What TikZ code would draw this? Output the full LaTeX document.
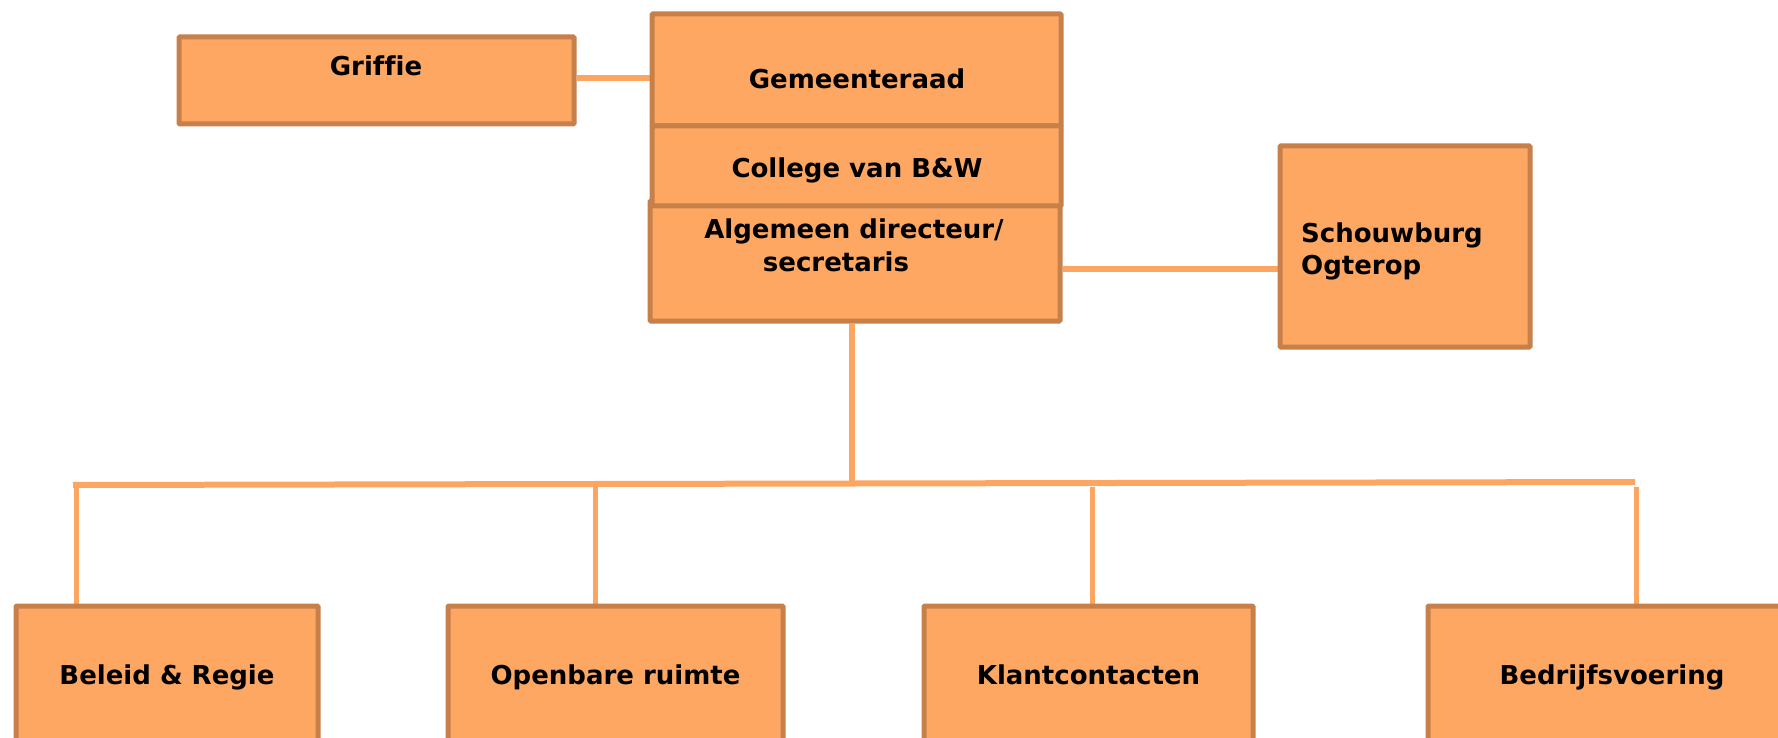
\documentclass[tikz,border=0pt]{standalone}
\usepackage{fontspec}
\setmainfont[Ligatures={NoCommon}]{DejaVu Sans}
\usetikzlibrary{backgrounds}
\definecolor{boxfill}{HTML}{FDA763}
\definecolor{boxline}{HTML}{C8804A}
\definecolor{conn}{HTML}{FDA661}
\begin{document}
\begin{tikzpicture}[x=1pt,y=-1pt,
  orgbox/.style={draw=boxline, fill=boxfill, line width=5pt, rounded corners=1pt, inner sep=0pt},
  lbl/.style={font=\bfseries\fontsize{26}{32}\selectfont, inner sep=0pt, text=black},
  bottombox/.style={orgbox, lbl, minimum height=144pt, text height=19pt, text depth=6pt},
  conline/.style={draw=conn, line width=6pt},
  dropline/.style={draw=conn, line width=5pt}]
\useasboundingbox (0,0) rectangle (1778,738);
\clip (0,0) rectangle (1778,738);
% boxes
\node[orgbox, minimum width=395pt, minimum height=87pt] (griffie) at (376.5,80.5) {};
\node[orgbox, minimum width=410pt, minimum height=120pt] (alg) at (855,261) {};
\node[orgbox, minimum width=409pt, minimum height=112pt] (gem) at (856.5,70) {};
\node[orgbox, minimum width=409pt, minimum height=80pt] (coll) at (856.5,166) {};
\node[orgbox, minimum width=250pt, minimum height=201pt] (schouw) at (1405,246.5) {};
\node[bottombox, minimum width=302pt] (beleid) at (167,678) {Beleid \& Regie};
\node[bottombox, minimum width=335pt] (openbaar) at (615.5,678) {Openbare ruimte};
\node[bottombox, minimum width=329pt] (klant) at (1088.5,678) {Klantcontacten};
\node[bottombox, minimum width=368pt] (bedrijf) at (1612,678) {Bedrijfsvoering};
% texts
\node[lbl, anchor=base] (tgriffie) at (376,76) {Griffie};
\node[lbl, anchor=base] (tgem) at (857,89) {Gemeenteraad};
\node[lbl, anchor=base] (tcoll) at (857,178) {College van B\&W};
\node[lbl, anchor=base] (talg1) at (854,239) {Algemeen directeur/};
\node[lbl, anchor=base] (talg2) at (836,272) {secretaris};
\node[lbl, anchor=base west] (tsch1) at (1301,243) {Schouwburg};
\node[lbl, anchor=base west] (tsch2) at (1301,274) {Ogterop};
% connectors
\begin{scope}[on background layer]
\draw[conline] ([yshift=2.5pt]griffie.east) -- ([yshift=2.5pt]griffie.east -| gem.west);
\draw[conline] ([yshift=-8pt]alg.east) -- ([yshift=-8pt]alg.east -| schouw.west);
\coordinate (busL) at (73,485);
\coordinate (busR) at (1635,482);
\coordinate (busM) at (852,483.5);
\draw[conline] ([xshift=-3pt]alg.south) -- (busM);
\draw[conline] (busL) -- (busR);
\coordinate (d1) at (76,487);
\coordinate (d2) at (595,487);
\coordinate (d3) at (1092,487);
\coordinate (d4) at (1636,487);
\draw[dropline] (d1) -- (d1 |- beleid.north);
\draw[dropline] (d2) -- (d2 |- openbaar.north);
\draw[dropline] (d3) -- (d3 |- klant.north);
\draw[dropline] (d4) -- (d4 |- bedrijf.north);
\end{scope}
\end{tikzpicture}
\end{document}
